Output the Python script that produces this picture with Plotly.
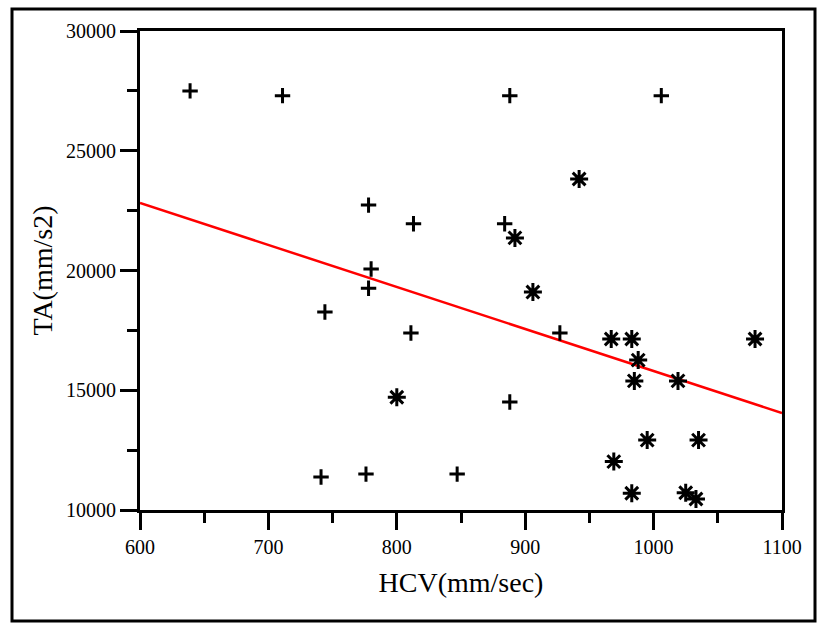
import plotly.graph_objects as go

# Group 1 (plus markers)
plus_hcv = [639, 711, 888, 1006, 778, 813, 884, 780, 778, 744, 811, 927, 888, 741, 776, 847]
plus_ta = [27500, 27300, 27300, 27300, 22730, 21950, 21950, 20060, 19260, 18270, 17390, 17390, 14510, 11380, 11500, 11500]

# Group 2 (asterisk markers)
star_hcv = [942, 892, 906, 967, 983, 988, 985, 1019, 1079, 995, 1035, 969, 983, 1025, 1033, 800]
star_ta = [23820, 21360, 19100, 17140, 17140, 16260, 15390, 15390, 17140, 12920, 12920, 12020, 10700, 10720, 10460, 14710]

# Regression line
fit_hcv = [600, 1100]
fit_ta = [22820, 14050]

x_ticks = [600, 700, 800, 900, 1000, 1100]
y_ticks = [10000, 15000, 20000, 25000, 30000]

FONT = "Liberation Serif"

fig = go.Figure()
fig.add_trace(go.Scatter(x=fit_hcv, y=fit_ta, mode="lines",
                         line=dict(color="#ff0000", width=2.5), showlegend=False))
fig.add_trace(go.Scatter(x=plus_hcv, y=plus_ta, mode="markers",
                         marker=dict(symbol="cross-thin", size=11, color="black",
                                     line=dict(color="black", width=3)), showlegend=False))
fig.add_trace(go.Scatter(x=star_hcv, y=star_ta, mode="markers",
                         marker=dict(symbol="asterisk-open", size=15, color="black",
                                     line=dict(color="black", width=3)), showlegend=False))

W, H = 817, 624
L, R, T, B = 140, 35, 31, 114
pw, ph = W - L - R, H - T - B

def px(x):
    return (x - L) / pw

def py(y):
    return (H - B - y) / ph

fig.add_shape(type="rect", xref="paper", yref="paper",
              x0=px(12), x1=px(815), y0=py(621), y1=py(9),
              line=dict(color="black", width=3), layer="below")

fig.update_xaxes(range=[600, 1100], tickvals=x_ticks, ticktext=[str(v) for v in x_ticks],
                 showgrid=False, zeroline=False, showline=True, linewidth=3, linecolor="black",
                 mirror=True, ticks="outside", ticklen=17, tickwidth=3, tickcolor="black",
                 minor=dict(dtick=50, tick0=600, ticks="outside", ticklen=10, tickwidth=3, tickcolor="black", showgrid=False),
                 tickfont=dict(family=FONT, size=20, color="black"),
                 title=dict(text="HCV(mm/sec)", font=dict(family=FONT, size=28, color="black"), standoff=16))
fig.update_yaxes(range=[10000, 30000], tickvals=y_ticks, ticktext=[str(v) for v in y_ticks],
                 showgrid=False, zeroline=False, showline=True, linewidth=3, linecolor="black",
                 mirror=True, ticks="outside", ticklen=17, tickwidth=3, tickcolor="black",
                 minor=dict(dtick=2500, tick0=10000, ticks="outside", ticklen=10, tickwidth=3, tickcolor="black", showgrid=False),
                 tickfont=dict(family=FONT, size=20, color="black"),
                 title=dict(text="TA(mm/s2)", font=dict(family=FONT, size=28, color="black"), standoff=6))

fig.update_layout(width=W, height=H, margin=dict(l=L, r=R, t=T, b=B, autoexpand=False),
                  plot_bgcolor="white", paper_bgcolor="white", showlegend=False)

fig.write_html("out.html")
